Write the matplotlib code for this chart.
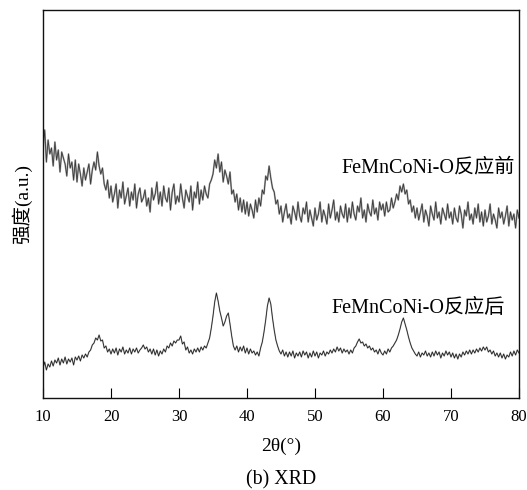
import numpy as np
import matplotlib
matplotlib.use("Agg")
import matplotlib.pyplot as plt

plt.rcParams['font.family'] = ['Liberation Serif']

CJK = ['Liberation Serif', 'Noto Sans CJK SC']

# 2theta grid (degrees), step 0.25
two_theta = np.arange(0, 281) * 0.25 + 10.0

# intensity (a.u.) before reaction (upper trace)
before = [
    250, 268, 236, 258, 244, 250, 232, 256, 238, 248, 226, 246, 240, 234, 222, 244, 230, 236, 218, 238,
    216, 234, 224, 212, 230, 218, 226, 234, 214, 228, 236, 228, 246, 232, 224, 230, 214, 208, 218, 200,
    212, 196, 204, 214, 190, 208, 200, 216, 194, 202, 210, 192, 206, 198, 214, 190, 204, 210, 196, 200,
    208, 192, 200, 186, 210, 198, 204, 216, 194, 206, 192, 212, 200, 196, 210, 188, 206, 214, 194, 202,
    196, 214, 200, 190, 208, 202, 196, 212, 188, 206, 200, 216, 194, 208, 198, 212, 204, 200, 214, 218,
    224, 238, 230, 244, 226, 236, 216, 228, 222, 214, 226, 204, 208, 196, 204, 188, 200, 186, 198, 184,
    196, 182, 194, 188, 180, 198, 186, 200, 192, 208, 204, 222, 218, 232, 220, 210, 206, 194, 198, 184,
    192, 176, 186, 194, 180, 184, 174, 192, 186, 178, 196, 182, 176, 190, 184, 196, 176, 188, 180, 172,
    190, 178, 184, 196, 176, 188, 182, 174, 194, 180, 188, 198, 178, 186, 176, 192, 184, 180, 194, 176,
    190, 180, 196, 184, 178, 192, 186, 200, 180, 188, 176, 194, 186, 182, 198, 184, 190, 178, 196, 188,
    194, 182, 196, 186, 188, 200, 190, 196, 204, 198, 212, 206, 214, 204, 208, 194, 198, 186, 192, 180,
    190, 178, 186, 194, 176, 188, 182, 172, 192, 184, 178, 196, 180, 186, 174, 190, 184, 178, 194, 180,
    186, 174, 190, 180, 176, 192, 184, 170, 188, 182, 196, 178, 184, 174, 190, 180, 194, 176, 186, 172,
    188, 176, 182, 194, 174, 184, 178, 170, 190, 180, 186, 174, 182, 192, 172, 186, 178, 184, 170, 188,
    180,
]

# intensity (a.u.) after reaction (lower trace)
after = [
    30, 36, 28, 34, 31, 37, 32, 38, 35, 40, 33, 39, 35, 41, 34, 39, 36, 40, 33, 41,
    38, 42, 37, 43, 40, 44, 41, 46, 48, 53, 55, 60, 58, 63, 57, 58, 50, 52, 46, 49,
    44, 49, 45, 50, 43, 49, 46, 51, 44, 48, 45, 50, 44, 49, 46, 50, 45, 48, 50, 53,
    49, 51, 46, 49, 44, 49, 43, 48, 42, 47, 44, 49, 46, 52, 50, 55, 52, 57, 55, 58,
    58, 62, 54, 56, 48, 51, 45, 48, 44, 49, 46, 50, 46, 51, 48, 52, 50, 55, 60, 70,
    82, 96, 105, 97, 87, 80, 72, 76, 82, 85, 74, 62, 52, 48, 52, 46, 51, 47, 52, 45,
    50, 44, 49, 45, 47, 43, 46, 42, 50, 56, 66, 78, 92, 100, 94, 80, 68, 58, 52, 47,
    44, 48, 42, 46, 41, 46, 42, 47, 40, 45, 42, 46, 41, 47, 43, 46, 40, 45, 41, 47,
    42, 46, 40, 45, 43, 47, 42, 46, 44, 48, 45, 49, 46, 51, 47, 50, 45, 49, 46, 48,
    44, 48, 45, 50, 52, 56, 59, 55, 56, 52, 54, 50, 52, 48, 50, 46, 48, 44, 49, 45,
    43, 47, 44, 49, 46, 50, 52, 55, 58, 63, 69, 76, 80, 74, 68, 61, 55, 50, 47, 44,
    42, 46, 41, 45, 43, 47, 42, 45, 41, 46, 42, 47, 43, 46, 40, 45, 42, 47, 43, 46,
    41, 45, 40, 44, 39, 44, 41, 46, 43, 47, 44, 48, 44, 48, 45, 49, 46, 50, 47, 51,
    48, 51, 46, 48, 44, 47, 42, 45, 41, 45, 40, 44, 39, 43, 41, 46, 42, 47, 43, 48,
    45,
]

labels = ["FeMnCoNi-O反应前", "FeMnCoNi-O反应后"]
xticks = [10, 20, 30, 40, 50, 60, 70, 80]

fig = plt.figure(figsize=(5.27, 4.90), dpi=100)
ax = fig.add_axes([43/527, 1-398/490, (519-43)/527, (398-10)/490])

# upper trace: light grey halo plus dark core
ax.plot(two_theta, before, color='#a8a8a8', lw=1.3)
ax.plot(two_theta, before, color='#3a3a3a', lw=0.6)
ax.plot(two_theta, after, color='#c4c4c4', lw=1.1)
ax.plot(two_theta, after, color='#222222', lw=0.6)

ax.set_xlim(10, 80)
ax.set_ylim(0, 388)
ax.set_xticks(xticks)
ax.set_xticklabels([str(t) for t in xticks])
ax.set_yticks([])
ax.tick_params(axis='x', direction='in', length=7, width=0.8, labelsize=12, pad=8)
for s in ax.spines.values():
    s.set_linewidth(1.0)
    s.set_color('#111111')

ax.text((515-43)/476, (398-168)/388, labels[0], transform=ax.transAxes, ha='right', va='center',
        fontsize=14.5, family=CJK)
ax.text((505-43)/476, (398-308)/388, labels[1], transform=ax.transAxes, ha='right', va='center',
        fontsize=14.5, family=CJK)

ax.set_xlabel("2θ(°)", fontsize=14, labelpad=9)
ax.set_ylabel("强度(a.u.)", fontsize=14, labelpad=8, family=CJK)
fig.text((43+519)/2/527, 1-480/490, "(b) XRD", ha='center', va='center', fontsize=14.3)

fig.savefig("out.png", dpi=100)
